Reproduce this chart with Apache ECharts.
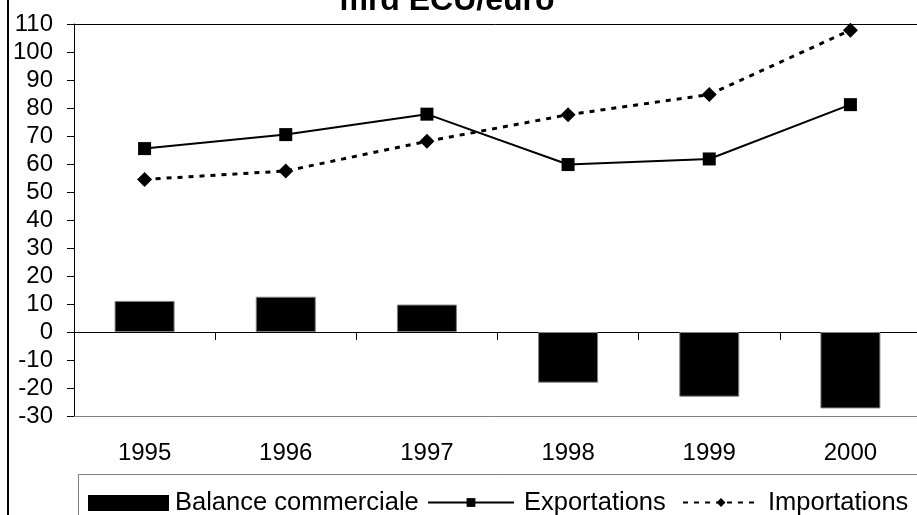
<!DOCTYPE html>
<html>
<head>
<meta charset="utf-8">
<script src="https://cdn.jsdelivr.net/npm/echarts@6/dist/echarts.min.js"></script>
<style>
html,body{margin:0;padding:0;background:#fff;overflow:hidden;}
#c{width:917px;height:515px;}
</style>
</head>
<body>
<div id="c"></div>
<script>
const titleText = 'mrd ECU/euro';
const years = ['1995', '1996', '1997', '1998', '1999', '2000'];
const balance = [11.1, 12.6, 9.8, -18.1, -23.1, -27.3];
const exportations = [65.5, 70.5, 77.8, 59.8, 61.8, 81.2];
const importations = [54.5, 57.5, 68.1, 77.6, 84.8, 107.8];
const seriesNames = ['Balance commerciale', 'Exportations', 'Importations'];

const FONT = '"Liberation Sans", Arial, sans-serif';
const chart = echarts.init(document.getElementById('c'), null, {renderer: 'canvas'});

chart.setOption({
  animation: false,
  backgroundColor: '#ffffff',
  grid: {
    left: 74, top: 24, width: 847, height: 392,
    outerBoundsMode: 'none', containLabel: false, show: false
  },
  graphic: [
    {type: 'line', shape: {x1: 8, y1: 0, x2: 8, y2: 515}, style: {stroke: '#000', lineWidth: 2}, silent: true},
    {type: 'polyline', shape: {points: [[960, 474.5], [78.5, 474.5], [78.5, 520]]}, style: {stroke: '#808080', lineWidth: 1, fill: null}, silent: true},
    {type: 'text', x: 447, y: 0.8, style: {text: titleText, font: 'bold 32px ' + FONT, fill: '#000', textAlign: 'center', textVerticalAlign: 'middle'}, silent: true}
  ],
  legend: [
    {
      data: [seriesNames[0]], left: 88, top: 490, padding: 0,
      icon: 'rect', itemWidth: 81, itemHeight: 16,
      itemStyle: {borderWidth: 0},
      textStyle: {fontFamily: FONT, fontSize: 25.5, color: '#000', padding: [0, 0, 4, 1]}
    },
    {
      data: [seriesNames[1]], left: 427, top: 489.5, padding: 0,
      itemWidth: 86, itemHeight: 11,
      textStyle: {fontFamily: FONT, fontSize: 25.5, color: '#000', padding: [0, 0, 0, 5]}
    },
    {
      data: [seriesNames[2]], left: 682, top: 489.5, padding: 0,
      itemWidth: 76, itemHeight: 11,
      textStyle: {fontFamily: FONT, fontSize: 25.5, color: '#000', padding: [0, 0, 0, 4]}
    }
  ],
  xAxis: [
    {
      type: 'category', data: years, position: 'bottom', boundaryGap: true,
      axisLine: {onZero: false, lineStyle: {color: '#808080', width: 1}},
      axisTick: {show: false},
      axisLabel: {fontFamily: FONT, fontSize: 24, color: '#000', margin: 25},
      splitLine: {show: false}
    },
    {
      type: 'category', data: years, position: 'top', boundaryGap: true,
      axisLine: {onZero: true, lineStyle: {color: '#000', width: 1}},
      axisTick: {show: true, inside: true, length: 8, lineStyle: {color: '#000', width: 1}},
      axisLabel: {show: false},
      splitLine: {show: false}
    },
    {
      type: 'category', data: years, position: 'top', boundaryGap: true,
      axisLine: {onZero: false, lineStyle: {color: '#000', width: 1}},
      axisTick: {show: false},
      axisLabel: {show: false},
      splitLine: {show: false}
    }
  ],
  yAxis: {
    type: 'value', min: -30, max: 110, interval: 10,
    axisLine: {show: true, onZero: false, lineStyle: {color: '#000', width: 1}},
    axisTick: {show: true, length: 7, lineStyle: {color: '#000'}},
    axisLabel: {fontFamily: FONT, fontSize: 24, color: '#000', margin: 21},
    splitLine: {show: false}
  },
  series: [
    {
      name: seriesNames[0], type: 'bar', xAxisIndex: 0, data: balance, barWidth: 60,
      itemStyle: {color: '#000', borderColor: '#808080', borderWidth: 1}
    },
    {
      name: seriesNames[1], type: 'line', xAxisIndex: 0, data: exportations,
      symbol: 'rect', symbolSize: 13,
      lineStyle: {color: '#000', width: 2, type: 'solid'},
      itemStyle: {color: '#000'}
    },
    {
      name: seriesNames[2], type: 'line', xAxisIndex: 0, data: importations,
      symbol: 'diamond', symbolSize: [15, 15],
      lineStyle: {color: '#000', width: 3, type: [5, 6]},
      itemStyle: {color: '#000'}
    }
  ]
});
</script>
</body>
</html>
